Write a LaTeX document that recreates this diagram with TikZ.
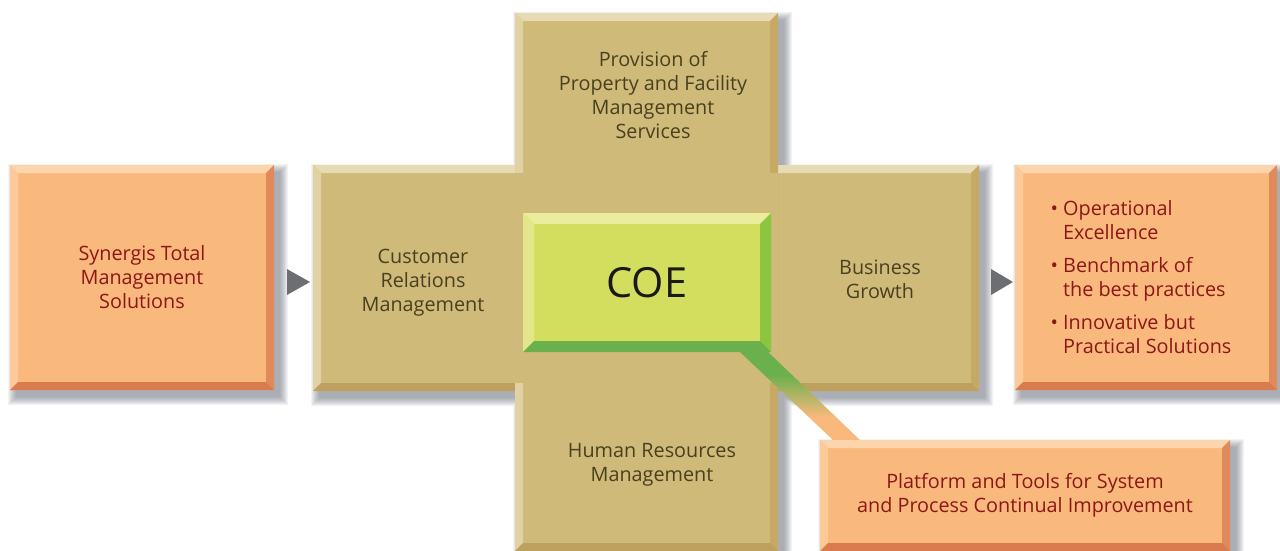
\documentclass[tikz,border=0pt]{standalone}
\usepackage{fontspec}
\setmainfont{Open Sans}
\usetikzlibrary{calc}
\definecolor{tanM}{HTML}{CFBA7A}
\definecolor{tanT}{HTML}{E6DBB2}
\definecolor{tanL}{HTML}{E0D2A2}
\definecolor{tanR}{HTML}{C6A965}
\definecolor{tanB}{HTML}{BEA05F}
\definecolor{orM}{HTML}{F9B97D}
\definecolor{orT}{HTML}{FCD5AC}
\definecolor{orL}{HTML}{FBCA98}
\definecolor{orR}{HTML}{E08A5B}
\definecolor{orB}{HTML}{D97A4F}
\definecolor{coM}{HTML}{D3DE5E}
\definecolor{coT}{HTML}{E9ED9D}
\definecolor{coL}{HTML}{E1E78A}
\definecolor{coR}{HTML}{8CC63F}
\definecolor{coB}{HTML}{6AB04C}
\definecolor{redtxt}{HTML}{8E1616}
\definecolor{tantxt}{HTML}{47411D}
\definecolor{arrowgray}{HTML}{6D6E71}
\definecolor{shadowc}{HTML}{4A5060}
\pgfdeclareverticalshading{connshade}{100bp}{color(0bp)=(orM); color(38bp)=(orM); color(62bp)=(coB); color(100bp)=(coB)}
\pgfdeclarelayer{shadowlayer}
\pgfdeclarelayer{crosslayer}
\pgfdeclarelayer{connlayer}
\pgfsetlayers{shadowlayer,crosslayer,connlayer,main}
\newcommand\bevelpaint[5]{%
  \coordinate (bA) at (path picture bounding box.north west);
  \coordinate (bB) at (path picture bounding box.north east);
  \coordinate (bC) at (path picture bounding box.south east);
  \coordinate (bD) at (path picture bounding box.south west);
  \fill[#2] (bA) -- (bB) -- ([shift={(-#1,-#1)}]bB) -- ([shift={(#1,-#1)}]bA) -- cycle;
  \fill[#3] (bA) -- ([shift={(#1,-#1)}]bA) -- ([shift={(#1,#1)}]bD) -- (bD) -- cycle;
  \fill[#4] (bB) -- (bC) -- ([shift={(-#1,#1)}]bC) -- ([shift={(-#1,-#1)}]bB) -- cycle;
  \fill[#5] (bD) -- (bC) -- ([shift={(-#1,#1)}]bC) -- ([shift={(#1,#1)}]bD) -- cycle;
}
\tikzset{
  tanbox/.style={fill=tanM, inner sep=0pt, outer sep=0pt, path picture={\bevelpaint{8pt}{tanT}{tanL}{tanR}{tanB}}},
  orangebox/.style={fill=orM, inner sep=0pt, outer sep=0pt, align=center, text=redtxt,
    font=\fontsize{19.8}{24}\selectfont, path picture={\bevelpaint{8pt}{orT}{orL}{orR}{orB}}},
  coebox/.style={fill=coM, inner sep=0pt, outer sep=0pt, text=black!90,
    font=\fontsize{41.5}{48}\selectfont, path picture={\bevelpaint{11pt}{coT}{coL}{coR}{coB}}},
  tantext/.style={text=tantxt, align=center, inner sep=0pt, font=\fontsize{19.8}{24}\selectfont},
  arrowtri/.style={fill=arrowgray},
  shadowpart/.style={fill=shadowc, opacity=0.065}
}
\begin{document}
\begin{tikzpicture}[x=1pt,y=-1pt]
\useasboundingbox (0,0) rectangle (1280,551);
\clip (0,0) rectangle (1280,551);
% soft drop shadows
\begin{pgfonlayer}{shadowlayer}
\foreach \r in {0,1,...,8}{
  \fill[shadowpart]
    (10+6-\r,165+7-\r) rectangle (274+6+\r,390+7+\r)
    (515+6-\r,13+7-\r) rectangle (778+6+\r,551+7+\r)
    (313+6-\r,165+7-\r) rectangle (979+6+\r,391+7+\r)
    (1015+6-\r,165+7-\r) rectangle (1277+6+\r,390+7+\r)
    (820+6-\r,440+7-\r) rectangle (1230+6+\r,551+7+\r);
}
\end{pgfonlayer}
% the cross
\begin{pgfonlayer}{crosslayer}
\node[tanbox, minimum width=666pt, minimum height=226pt] (hbar) at (646,278) {};
\node[tanbox, minimum width=263pt, minimum height=538pt] (vbar) at (646.5,282) {};
\fill[tanM] (515,173) rectangle (778,383);
\end{pgfonlayer}
% texts on the cross
\node[tantext] (prov) at (653,95.5) {Provision of\\Property and Facility\\Management\\Services};
\node[tantext] (crm) at (423,283) {Customer\\Relations\\Management};
\node[tantext] (bg) at (880,279.5) {Business\\Growth};
\node[tantext] (hrm) at (652,464.5) {Human Resources\\Management};
% boxes
\node[coebox, minimum width=248pt, minimum height=139pt] (coe) at (647,282.5) {COE};
\node[orangebox, minimum width=264pt, minimum height=225pt] (syn) at (142,277.5)
  {Synergis Total\\Management\\Solutions};
\node[orangebox, minimum width=262pt, minimum height=225pt, align=left] (res) at (1146,277.5)
  {\textbullet\ Operational\\\hphantom{\textbullet\ }Excellence\\[9pt]%
   \textbullet\ Benchmark of\\\hphantom{\textbullet\ }the best practices\\[9pt]%
   \textbullet\ Innovative but\\\hphantom{\textbullet\ }Practical Solutions\hspace*{10pt}};
\node[orangebox, minimum width=410pt, minimum height=111pt] (pbox) at (1025,495.5)
  {Platform and Tools for System\\and Process Continual Improvement};
% connector band COE -> platform box
\begin{pgfonlayer}{connlayer}
\shade[shading=connshade] ($(coe.south east)+(-31,0)$) -- ($(coe.south east)+(-3,0)$)
  -- ($(pbox.north west)+(40,0)$) -- ($(pbox.north west)+(13,0)$) -- cycle;
\end{pgfonlayer}
% arrows
\fill[arrowtri] ($(syn.east)+(13,-8.5)$) -- ($(syn.east)+(13,17.5)$) -- ($(syn.east)+(36,4.5)$) -- cycle;
\fill[arrowtri] ($(hbar.east)+(12,-9)$) -- ($(hbar.east)+(12,17)$) -- ($(hbar.east)+(34,4)$) -- cycle;
\end{tikzpicture}
\end{document}
